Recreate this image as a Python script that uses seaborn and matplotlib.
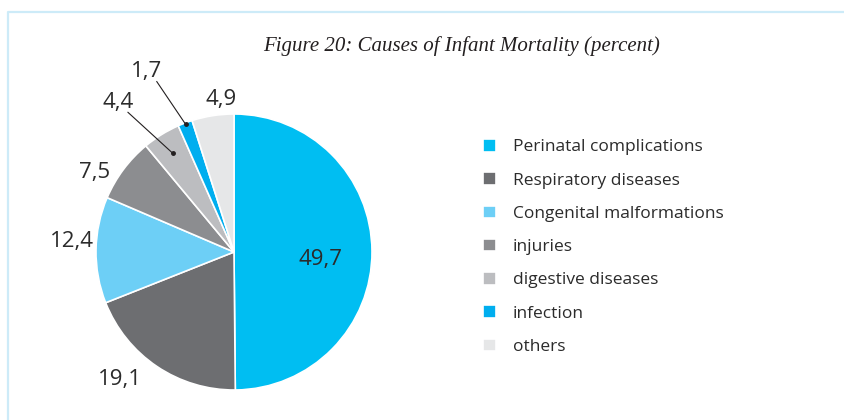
import numpy as np
import matplotlib
matplotlib.use('Agg')
import matplotlib.pyplot as plt
import seaborn as sns
from matplotlib.lines import Line2D

# data
causes = ['Perinatal complications', 'Respiratory diseases', 'Congenital malformations',
          'injuries', 'digestive diseases', 'infection', 'others']
values = [49.7, 19.1, 12.4, 7.5, 4.4, 1.7, 4.9]
labels = ['49,7', '19,1', '12,4', '7,5', '4,4', '1,7', '4,9']
colors = ['#00BEF2', '#6D6E71', '#6DCFF6', '#8C8D90', '#BCBDC0', '#00AEEF', '#E6E7E8']

sns.set_theme(style='white')
plt.rcParams['font.family'] = ['Open Sans', 'DejaVu Sans']
palette = sns.color_palette(colors)

fig = plt.figure(figsize=(8.45, 4.2), dpi=100)
ax = fig.add_axes([96 / 845, 30 / 420, 276 / 845, 276 / 420])

wedges, _ = ax.pie(values, colors=palette, startangle=90, counterclock=False,
                   wedgeprops=dict(edgecolor='white', linewidth=1.2), radius=1)
ax.set_xlim(-1, 1)
ax.set_ylim(-1, 1)
ax.set_aspect('equal')
ax.axis('off')

# label placement: (radius, angle shift in degrees) relative to wedge middle
place = [(0.63, -5), (1.24, -8), (1.18, -3), (1.16, 7), (1.37, 6), (1.45, 5), (1.11, -4)]
pointer = {4: 0.84, 5: 0.99}

for i, w in enumerate(wedges):
    mid = np.deg2rad((w.theta1 + w.theta2) / 2)
    r, shift = place[i]
    a = mid + np.deg2rad(shift)
    tx, ty = r * np.cos(a), r * np.sin(a)
    ax.text(tx, ty, labels[i], ha='center', va='center', fontsize=16,
            color='#2B2B2B', clip_on=False)
    if i in pointer:
        rp = pointer[i]
        px, py = rp * np.cos(mid), rp * np.sin(mid)
        sx, sy = tx + 0.07, ty - 0.07
        ax.plot([sx, px], [sy, py], color='#231F20', lw=0.8, clip_on=False)
        ax.plot(px, py, 'o', color='#231F20', ms=2.5, clip_on=False)

fig.legend(wedges, causes, loc='upper left', bbox_to_anchor=(483 / 845, 1 - 139 / 420),
           frameon=False, fontsize=12.5, handlelength=0.75, handleheight=0.75,
           handletextpad=0.95, labelspacing=0.97, borderpad=0, borderaxespad=0,
           labelcolor='#2B2B2B')

fig.text(462 / 845, 1 - 46 / 420, 'Figure 20: Causes of Infant Mortality (percent)',
         ha='center', va='center', fontsize=15, style='italic',
         family=['Liberation Serif', 'DejaVu Serif'], color='#231F20')

# frame lines
fig.add_artist(Line2D([8 / 845, 8 / 845, 1.01], [0, 1 - 12 / 420, 1 - 12 / 420],
                      color='#CDEBF8', lw=1.6))

fig.savefig('out.png', dpi=100)
